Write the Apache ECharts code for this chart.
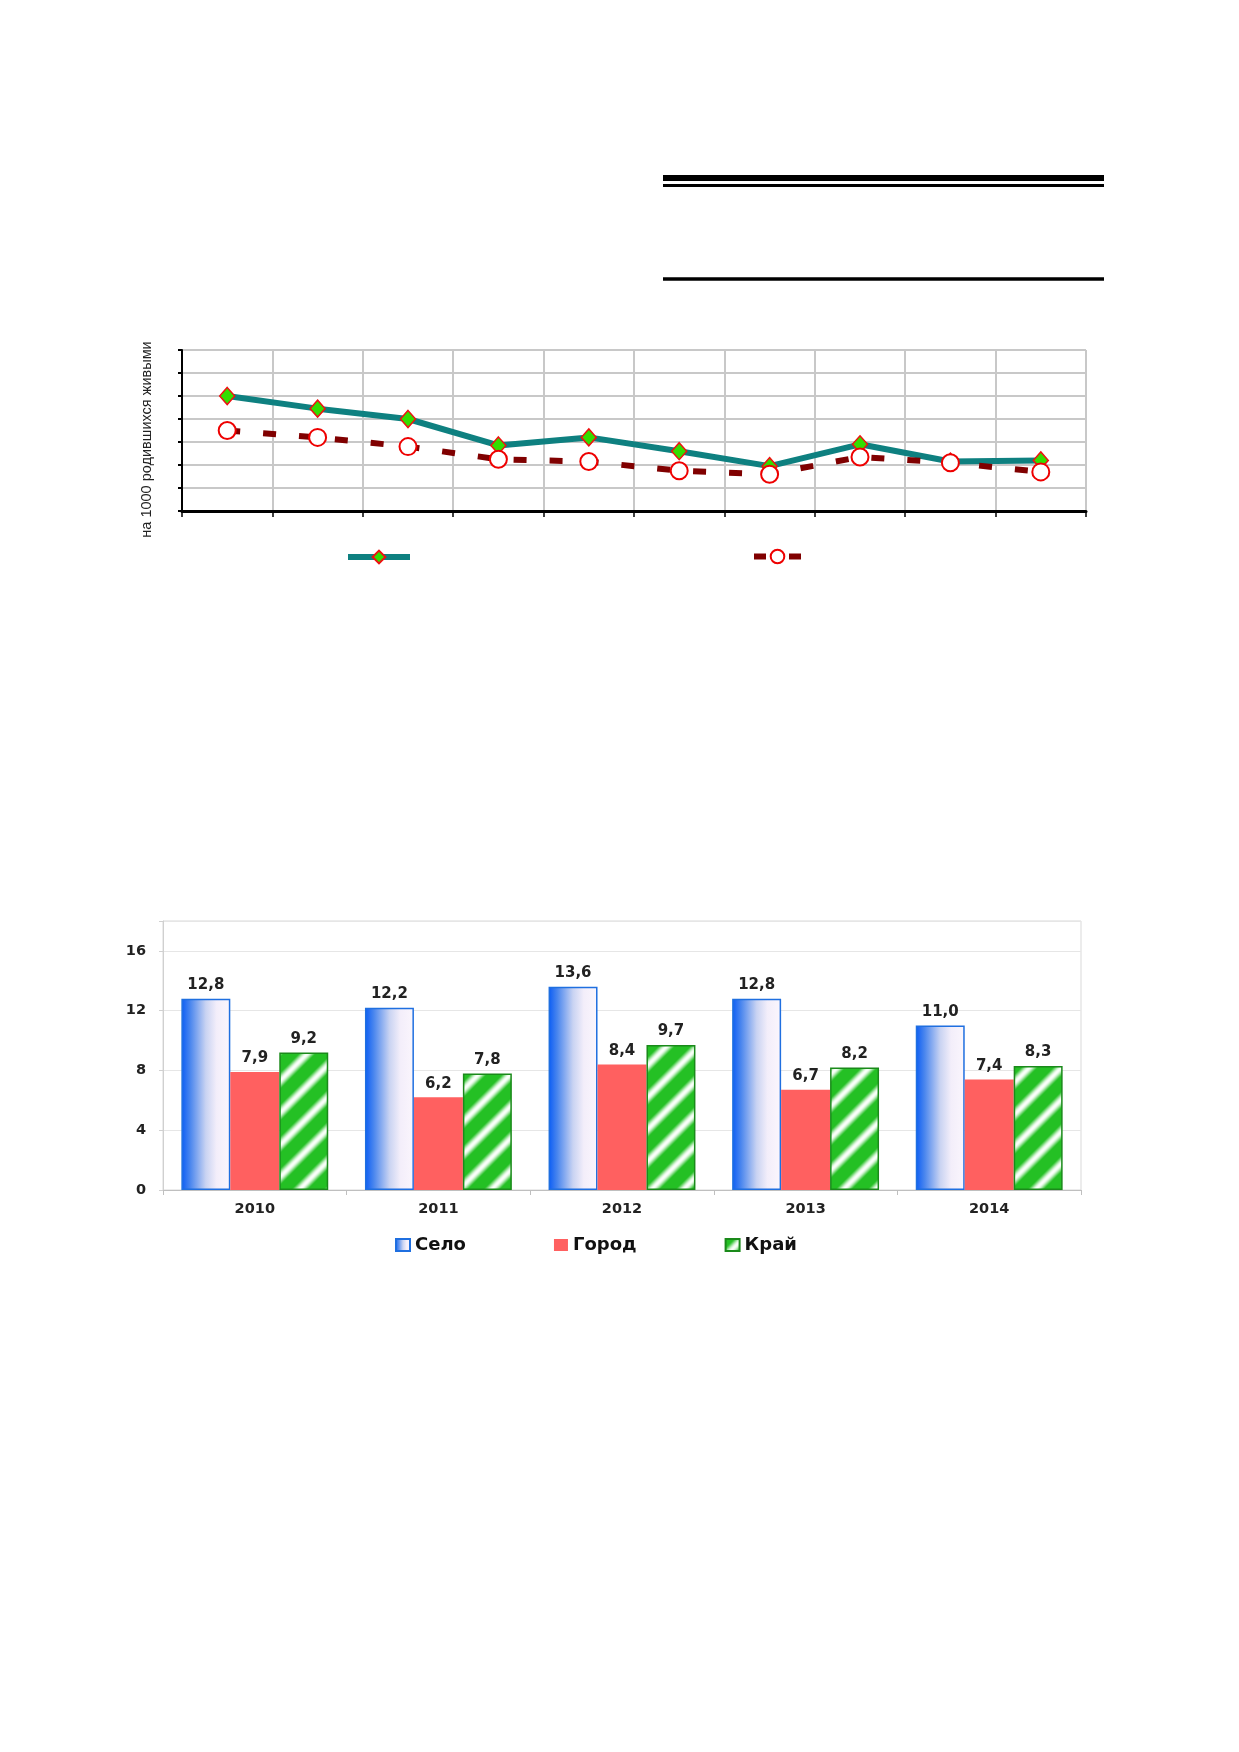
<!DOCTYPE html>
<html><head><meta charset="utf-8">
<script src="https://cdn.jsdelivr.net/npm/echarts@6/dist/echarts.min.js"></script>
<style>html,body{margin:0;padding:0;background:#fff}#c{width:1239px;height:1752px}</style>
</head><body><div id="c"></div>
<script>
// ---- data ----
const lineYears = ['2005','2006','2007','2008','2009','2010','2011','2012','2013','2014'];
const lineSeriesA = [10.0, 8.9, 8.0, 5.7, 6.4, 5.2, 3.9, 5.8, 4.3, 4.4];
const lineSeriesB = [7.0, 6.4, 5.6, 4.5, 4.3, 3.5, 3.2, 4.7, 4.2, 3.4];
const lineAxisName = 'на 1000 родившихся живыми';

const barYears = ['2010','2011','2012','2013','2014'];
const selo  = [12.8, 12.2, 13.6, 12.8, 11.0];
const gorod = [7.9, 6.2, 8.4, 6.7, 7.4];
const krai  = [9.2, 7.8, 9.7, 8.2, 8.3];
const barTicks = [0, 4, 8, 12, 16];
const barNames = ['Село', 'Город', 'Край'];

// ---- styles ----
function makeStripe() {
  const P = 32;
  const c = document.createElement('canvas'); c.width = P; c.height = P;
  const ctx = c.getContext('2d');
  const img = ctx.createImageData(P, P);
  for (let y = 0; y < P; y++) for (let x = 0; x < P; x++) {
    const t = ((x + y) % P) / P;
    const d = Math.abs(t - 0.5) / 0.27;
    const w = d >= 1 ? 0 : Math.pow(Math.cos(d * Math.PI / 2), 1.4);
    const base = [36, 192, 36];
    const i = (y * P + x) * 4;
    img.data[i]   = Math.round(base[0] + (250 - base[0]) * w);
    img.data[i+1] = Math.round(base[1] + (255 - base[1]) * w);
    img.data[i+2] = Math.round(base[2] + (250 - base[2]) * w);
    img.data[i+3] = 255;
  }
  ctx.putImageData(img, 0, 0);
  return c;
}
const stripe = makeStripe();
const seloColor = new echarts.graphic.LinearGradient(0, 0, 1, 0, [
  {offset: 0, color: '#0a5cf5'},
  {offset: 0.18, color: '#4a86ee'},
  {offset: 0.5, color: '#c9d3f2'},
  {offset: 0.72, color: '#f3eefa'},
  {offset: 1, color: '#fbf6fd'}
]);
const fmt = p => p.value.toFixed(1).replace('.', ',');
const barLabel = {show: true, position: 'top', distance: 6, formatter: fmt,
  fontFamily: 'DejaVu Sans', fontWeight: 'bold', fontSize: 15, color: '#222'};

const chart = echarts.init(document.getElementById('c'), null, {renderer: 'canvas'});
chart.setOption({
  animation: false,
  backgroundColor: '#fff',
  graphic: [
    {type: 'rect', shape: {x: 663, y: 175, width: 441, height: 6}, style: {fill: '#000'}},
    {type: 'rect', shape: {x: 663, y: 184, width: 441, height: 3}, style: {fill: '#000'}},
    {type: 'rect', shape: {x: 663, y: 277.3, width: 441, height: 3.5}, style: {fill: '#000'}}
  ],
  grid: [
    {left: 182, top: 350, width: 904, height: 161},
    {left: 163, top: 921, width: 918, height: 269, show: true, borderColor: '#d9d9d9', borderWidth: 1}
  ],
  xAxis: [
    {gridIndex: 0, type: 'category', data: lineYears, boundaryGap: true,
     axisLine: {lineStyle: {color: '#000', width: 3}},
     axisTick: {show: true, length: 6, lineStyle: {color: '#000', width: 1.5}},
     axisLabel: {show: false},
     splitLine: {show: true, lineStyle: {color: '#c8c8c8', width: 2}}},
    {gridIndex: 1, type: 'category', data: barYears,
     axisLine: {lineStyle: {color: '#bfbfbf', width: 1}},
     axisTick: {show: true, length: 5, lineStyle: {color: '#bfbfbf'}},
     axisLabel: {fontFamily: 'DejaVu Sans', fontWeight: 'bold', fontSize: 14.5, color: '#222', margin: 12}}
  ],
  yAxis: [
    {gridIndex: 0, type: 'value', min: 0, max: 14, interval: 2,
     axisLine: {show: true, lineStyle: {color: '#000', width: 2}},
     axisTick: {show: true, length: 4, lineStyle: {color: '#000', width: 2}},
     axisLabel: {show: false},
     splitLine: {show: true, lineStyle: {color: '#c8c8c8', width: 2}},
     name: lineAxisName, nameLocation: 'middle', nameGap: 28,
     nameTextStyle: {fontFamily: 'Liberation Sans', fontSize: 14.5, color: '#222', padding: [0, 18, 0, 0]}},
    {gridIndex: 1, type: 'value', min: 0, max: 18, interval: 4,
     axisLine: {show: true, lineStyle: {color: '#d0d0d0', width: 1}},
     axisTick: {show: true, length: 4, lineStyle: {color: '#d0d0d0'}},
     axisLabel: {formatter: v => barTicks.includes(v) ? String(v) : '',
       fontFamily: 'DejaVu Sans', fontWeight: 'bold', fontSize: 14.5, color: '#222', margin: 17},
     splitLine: {show: true, lineStyle: {color: '#e6e6e6', width: 1}}}
  ],
  legend: [
    {data: ['Регион'], left: 345, top: 549, padding: 0, itemWidth: 62, itemHeight: 16, selectedMode: false,
     formatter: () => '', lineStyle: {width: 6}},
    {data: ['Россия'], left: 751, top: 548, padding: 0, itemWidth: 47, itemHeight: 17, selectedMode: false,
     formatter: () => '', lineStyle: {width: 6, type: [12, 23]}},
    {data: barNames, left: 395, top: 1236, padding: 0, itemWidth: 14, itemHeight: 12, itemGap: 88, icon: 'rect',
     selectedMode: false,
     textStyle: {fontFamily: 'DejaVu Sans', fontWeight: 'bold', fontSize: 18, color: '#111'}}
  ],
  series: [
    {type: 'line', name: 'Регион', xAxisIndex: 0, yAxisIndex: 0, data: lineSeriesA,
     symbol: 'diamond', symbolSize: [15, 17],
     lineStyle: {color: '#0e8080', width: 6},
     itemStyle: {color: '#33dd00', borderColor: '#ee1111', borderWidth: 1.5}},
    {type: 'line', name: 'Россия', xAxisIndex: 0, yAxisIndex: 0, data: lineSeriesB,
     symbol: 'circle', symbolSize: 17,
     lineStyle: {color: '#800000', width: 6, type: [13, 23]},
     itemStyle: {color: '#fff', borderColor: '#ee0000', borderWidth: 2}},
    {type: 'bar', name: 'Село', xAxisIndex: 1, yAxisIndex: 1, data: selo,
     barGap: '0%', barCategoryGap: '20%',
     itemStyle: {color: seloColor, borderColor: '#1f6fe0', borderWidth: 1.5},
     label: barLabel},
    {type: 'bar', name: 'Город', xAxisIndex: 1, yAxisIndex: 1, data: gorod,
     barGap: '0%', barCategoryGap: '20%',
     itemStyle: {color: '#ff6060'},
     label: barLabel},
    {type: 'bar', name: 'Край', xAxisIndex: 1, yAxisIndex: 1, data: krai,
     barGap: '0%', barCategoryGap: '20%',
     itemStyle: {color: {image: stripe, repeat: 'repeat'}, borderColor: '#1a8a1a', borderWidth: 1.5},
     label: barLabel}
  ]
});
</script>
</body></html>
